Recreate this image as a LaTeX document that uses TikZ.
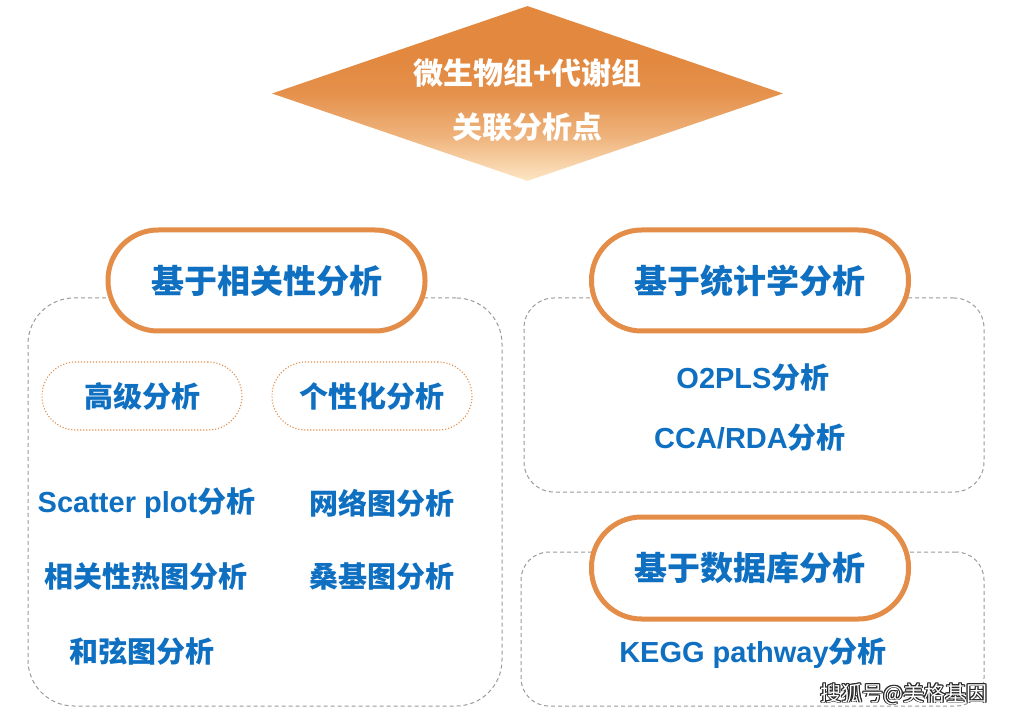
\documentclass[tikz,border=0pt]{standalone}
\usepackage{fontspec}
\setmainfont{Liberation Sans}
\newfontfamily\cjk{Noto Sans CJK SC}
\usetikzlibrary{shapes.geometric}
\definecolor{ob}{HTML}{E38D48}
\definecolor{otop}{HTML}{E2883F}
\definecolor{obot}{HTML}{FDE6C4}
\definecolor{bt}{HTML}{0F6FC0}
\definecolor{dg}{HTML}{9A9A9A}
\pgfdeclareverticalshading{dshade}{100bp}{color(0bp)=(obot); color(25bp)=(obot);
  color(38bp)=(otop!55!obot); color(50bp)=(otop!90!obot); color(60bp)=(otop);
  color(100bp)=(otop)}
\newcommand{\zhs}[1]{{\cjk\bfseries #1}}
\begin{document}
\begin{tikzpicture}[x=1pt,y=-1pt,
  pill/.style={draw=ob, line width=5pt, fill=white, rounded corners=50pt,
    minimum width=317pt, minimum height=101pt, inner sep=0pt, text=bt,
    font=\fontsize{33}{33}\selectfont\bfseries},
  dbox/.style={draw=dg, line width=1pt, dash pattern=on 4pt off 3pt, inner sep=0pt},
  dpill/.style={draw=ob, line width=1.1pt, dash pattern=on 1.1pt off 1.9pt,
    rounded corners=34pt, minimum width=200pt, minimum height=68pt, inner sep=0pt,
    text=bt, font=\fontsize{29}{29}\selectfont\bfseries},
  lbl/.style={text=bt, inner sep=0pt, font=\fontsize{29}{29}\selectfont\bfseries},
  toptext/.style={text=white, align=center, inner sep=0pt,
    font=\fontsize{30}{54}\selectfont\bfseries},
  wmk/.style={inner sep=0pt, font=\fontsize{21}{21}\selectfont}
]
\useasboundingbox (0,0) rectangle (1010,719);

% top diamond
\node[diamond, minimum width=511pt, minimum height=175pt, inner sep=0pt,
  shading=dshade, draw=none] (top) at (527.5,93.5) {};
\node[toptext] (toptxt) at (527.5,100) {\zhs{微生物组+代谢组}\\\zhs{关联分析点}};

% dashed containers
\node[dbox, rounded corners=46pt, minimum width=474pt, minimum height=408pt] (lbox) at (265,502) {};
\node[dbox, rounded corners=30pt, minimum width=460pt, minimum height=194pt] (rtbox) at (754,395) {};
\node[dbox, rounded corners=28pt, minimum width=463pt, minimum height=154pt] (rbbox) at (752.5,629) {};

% category pills
\node[pill] (corr) at (266.5,280.5) {\zhs{基于相关性分析}};
\node[pill] (stat) at (750,280.5) {\zhs{基于统计学分析}};
\node[pill, minimum height=102pt] (db) at (750,568) {\zhs{基于数据库分析}};

% dotted sub pills
\node[dpill] (adv) at (142,396) {\zhs{高级分析}};
\node[dpill] (pers) at (372,396) {\zhs{个性化分析}};

% left items
\node[lbl] (scat) at (146.5,503) {Scatter plot\zhs{分析}};
\node[lbl] (net) at (381.5,503) {\zhs{网络图分析}};
\node[lbl] (heat) at (146,577) {\zhs{相关性热图分析}};
\node[lbl] (sank) at (381.5,577) {\zhs{桑基图分析}};
\node[lbl] (chord) at (142,651) {\zhs{和弦图分析}};

% right items
\node[lbl] (o2pls) at (753,378) {O2PLS\zhs{分析}};
\node[lbl] (cca) at (750,438) {CCA/RDA\zhs{分析}};
\node[lbl] (kegg) at (753,653) {KEGG pathway\zhs{分析}};

% watermark
\foreach \dx/\dy [count=\i] in {-0.9/0,0.9/0,0/-0.9,0/0.9,-0.7/-0.7,0.7/0.7,-0.7/0.7,0.7/-0.7}
  \node[wmk, text=black!85] (wms\i) at (904+\dx,694+\dy) {\cjk 搜狐号@美格基因};
\node[wmk, text=white] (wm) at (904,694) {\cjk 搜狐号@美格基因};
\end{tikzpicture}
\end{document}
